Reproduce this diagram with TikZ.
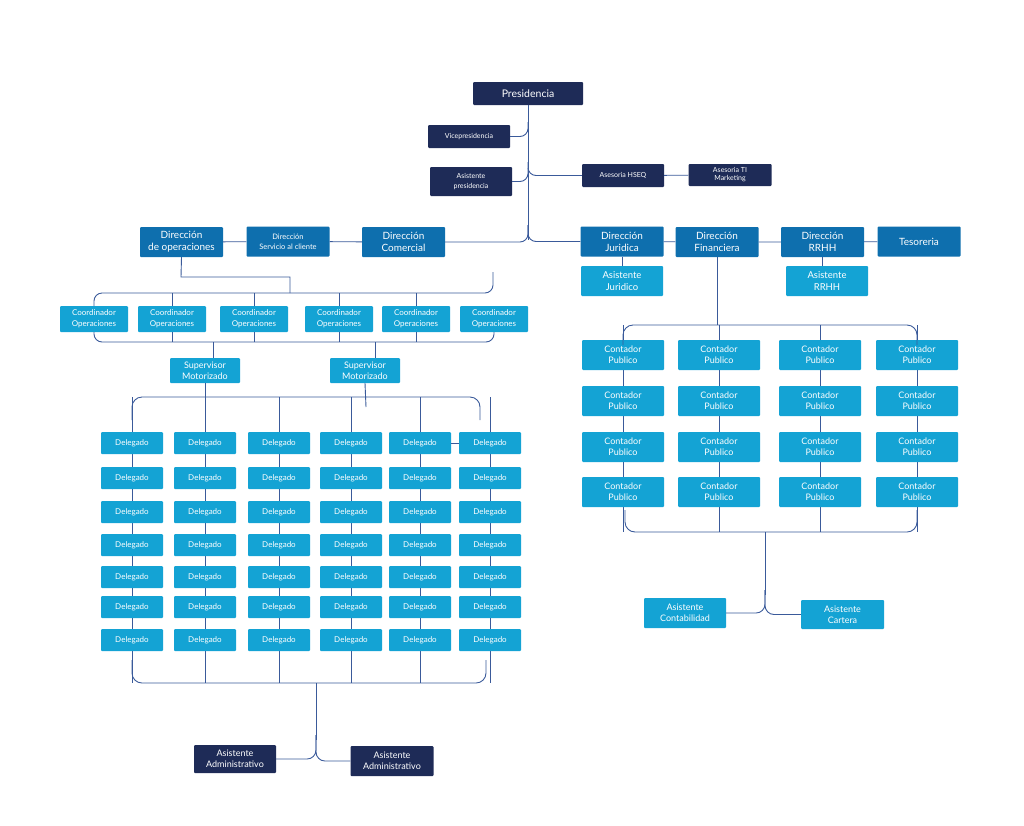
\documentclass[tikz,border=0pt]{standalone}
\usepackage{fontspec}
\setmainfont{Lato}
\usepackage{tikz}

\definecolor{navy}{HTML}{1E2B57}
\definecolor{midblue}{HTML}{0E6FAE}
\definecolor{lightblue}{HTML}{14A3D4}
\definecolor{linecol}{HTML}{3A5A9A}

\tikzset{
    box/.style={rectangle, rounded corners=1pt, text=white, align=center,
        inner sep=1pt, font=\fontsize{8}{9}\selectfont},
    darkbox/.style={box, fill=navy},
    dirbox/.style={box, fill=midblue, minimum width=83pt, minimum height=30pt,
        font=\fontsize{10}{12}\selectfont},
    lightbox/.style={box, fill=lightblue},
    link/.style={draw=linecol, line width=0.9pt},
}

\begin{document}
\begin{tikzpicture}[x=1pt, y=-1pt]
\useasboundingbox (0,0) rectangle (1024,825);

% top level
\node[darkbox, minimum width=110pt, minimum height=23pt, font=\fontsize{10.5}{12}\selectfont] (pres) at (528,93.5) {Presidencia};
\node[darkbox, minimum width=82pt, minimum height=23pt, font=\fontsize{7}{8}\selectfont] (vice) at (469,136.5) {Vicepresidencia};
\node[darkbox, minimum width=82pt, minimum height=29pt, font=\fontsize{7}{10}\selectfont] (asispres) at (471,181.5) {Asistente\\presidencia};
\node[darkbox, minimum width=82pt, minimum height=23pt, font=\fontsize{7}{8}\selectfont] (hseq) at (623,175.5) {Asesoria HSEQ};
\node[darkbox, minimum width=83pt, minimum height=22pt, font=\fontsize{7}{8}\selectfont] (ti) at (730,175) {Asesoria TI\\Marketing};

% direcciones
\node[dirbox] (oper) at (181.5,242) {Dirección\\de operaciones};
\node[dirbox, font=\fontsize{7.5}{10}\selectfont] (servicio) at (288,241.5) {Dirección\\Servicio al cliente};
\node[dirbox] (comercial) at (403.5,242) {Dirección\\Comercial};
\node[dirbox] (juridica) at (622,241.5) {Dirección\\Juridica};
\node[dirbox] (financiera) at (717,242) {Dirección\\Financiera};
\node[dirbox] (rrhh) at (822.5,242) {Dirección\\RRHH};
\node[dirbox] (tesoreria) at (919,241.5) {Tesoreria};

\node[lightbox, minimum width=82pt, minimum height=30pt, font=\fontsize{9.5}{12}\selectfont] (asisjur) at (622,281) {Asistente\\Juridico};
\node[lightbox, minimum width=82pt, minimum height=30pt, font=\fontsize{9.5}{12}\selectfont] (asisrrhh) at (827,281) {Asistente\\RRHH};

\draw[link] (pres.south) -- (528,240);
\draw[link, rounded corners=8pt] (528,122) |- (vice.east);
\draw[link, rounded corners=8pt] (528,168) |- (asispres.east);
\draw[link, rounded corners=8pt] (528,162) |- (hseq.west);
\draw[link] (hseq) -- (ti);
\draw[link, rounded corners=8pt] (528,225) |- (comercial.east);
\draw[link, rounded corners=8pt] (528,225) |- (juridica.west);
\draw[link] (oper) -- (servicio) -- (comercial);
\draw[link] (juridica) -- (financiera) -- (rrhh) -- (tesoreria);
\draw[link] (juridica) -- (asisjur);
\draw[link] (rrhh.south) -- (rrhh.south |- asisrrhh.north);

% coordinadores
\foreach \i/\x in {1/94,2/172,3/254,4/339,5/416,6/494}
    \node[lightbox, minimum width=68pt, minimum height=26pt, font=\fontsize{8}{11}\selectfont] (coord\i) at (\x,319) {Coordinador\\Operaciones};
\draw[link] (oper.south) -- (181,277) -- (290,277) -- (290,293);
\draw[link, rounded corners=8pt] (coord1.north) -- (94,293) -- (493,293) -- (493,272);
\foreach \i in {2,3,4,5}
    \draw[link] (coord\i.north |- 0,293) -- (coord\i.north);
\draw[link, rounded corners=8pt] (coord1.south) -- (94,342) -- (494,342) -- (coord6.south);
\foreach \i in {2,3,4,5}
    \draw[link] (coord\i.south) -- (coord\i.south |- 0,342);

% supervisores
\node[lightbox, minimum width=70pt, minimum height=25pt, font=\fontsize{9}{11}\selectfont] (super1) at (205,370.5) {Supervisor\\Motorizado};
\node[lightbox, minimum width=70pt, minimum height=25pt, font=\fontsize{9}{11}\selectfont] (super2) at (365,370.5) {Supervisor\\Motorizado};
\draw[link] (213,342) -- (213,358);
\draw[link] (375,342) -- (375,358);

% delegados
\foreach \c/\x in {1/132,2/205,3/279,4/351,5/420,6/490} {
    \draw[link] (\x,397) -- (\x,683);
    \foreach \r/\y in {1/443,2/478,3/512,4/545,5/577,6/607,7/640}
        \node[lightbox, minimum width=62pt, minimum height=22pt, font=\fontsize{8}{9}\selectfont] (del\c\r) at (\x,\y) {Delegado};
}
\draw[link] (super1.south) -- (205,397);
\draw[link] (super2.south) -- (366,407);
\draw[link, rounded corners=10pt] (132,420) -- (132,397) -- (480,397) -- (480,420);
\draw[link, rounded corners=10pt] (132,660) -- (132,683) -- (486,683) -- (486,660);
\draw[link] (del51) -- (del61);

\node[darkbox, minimum width=82pt, minimum height=28pt, font=\fontsize{9}{11}\selectfont] (adm1) at (235,759) {Asistente\\Administrativo};
\node[darkbox, minimum width=83pt, minimum height=30pt, font=\fontsize{9}{11}\selectfont] (adm2) at (392,761) {Asistente\\Administrativo};
\draw[link] (316,683) -- (316,740);
\draw[link, rounded corners=9pt] (316,735) |- (adm1.east);
\draw[link, rounded corners=9pt] (316,735) |- (adm2.west);

% contadores
\foreach \c/\x in {1/623,2/719,3/820,4/917} {
    \draw[link] (\x,325) -- (\x,532);
    \foreach \r/\y in {1/355,2/401,3/447,4/492}
        \node[lightbox, minimum width=82pt, minimum height=30pt, font=\fontsize{9}{11}\selectfont] (cont\c\r) at (\x,\y) {Contador\\Publico};
}
\draw[link] (financiera.south) -- (717,325);
\draw[link, rounded corners=10pt] (623,345) -- (623,325) -- (917,325) -- (917,345);
\draw[link, rounded corners=10pt] (625,510) -- (625,532) -- (917,532) -- (917,510);

\node[lightbox, minimum width=82pt, minimum height=30pt, font=\fontsize{9}{11}\selectfont] (contab) at (685,613) {Asistente\\Contabilidad};
\node[lightbox, minimum width=83pt, minimum height=29pt, font=\fontsize{9}{11}\selectfont] (cartera) at (842.5,614.5) {Asistente\\Cartera};
\draw[link] (765,532) -- (765,595);
\draw[link, rounded corners=9pt] (765,590) |- (contab.east);
\draw[link, rounded corners=9pt] (765,590) |- (cartera.west);
\end{tikzpicture}
\end{document}
